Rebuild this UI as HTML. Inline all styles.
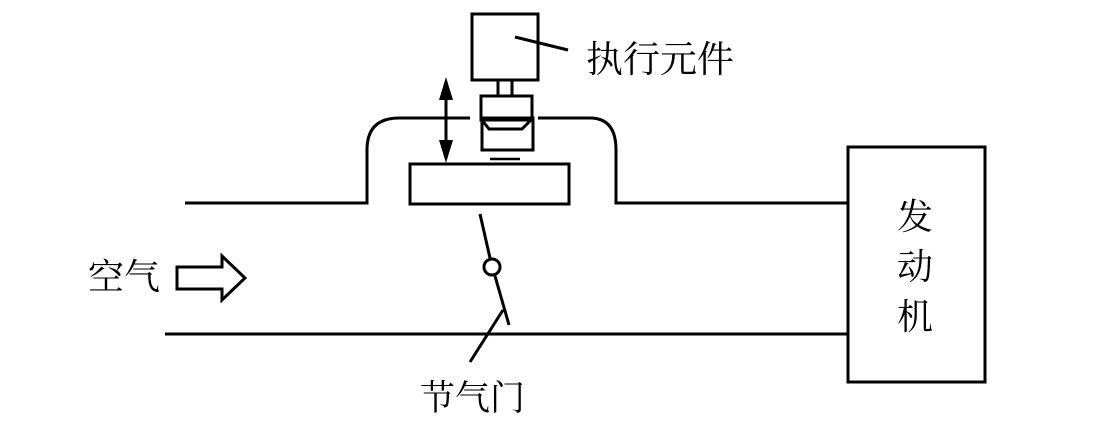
<!DOCTYPE html>
<html><head><meta charset="utf-8"><style>
html,body{margin:0;padding:0;background:#fff;}
svg{display:block}
text{font-family:"Liberation Sans","Noto Serif CJK SC",serif;fill:#000;}
</style></head><body>
<svg width="1100" height="443" viewBox="0 0 1100 443" xmlns="http://www.w3.org/2000/svg">
<g fill="none" stroke="#000" stroke-width="3">
<rect x="472" y="14" width="66" height="66"/>
<line x1="515" y1="37" x2="568" y2="50"/>
<rect x="498" y="80" width="14" height="16"/>
<rect x="481" y="96" width="51" height="24"/>
<rect x="482" y="118" width="51" height="32"/>
<polyline points="482,120 489,129 522,129 531,120"/>
<line x1="490" y1="159" x2="520" y2="159" stroke-width="2.5"/>
<path d="M185,203 H367 V150 Q367,118 399,118 H470"/>
<path d="M538,118 H590 Q616,118 616,150 V203 H848"/>
<rect x="410" y="164" width="159" height="40"/>
<line x1="165" y1="334" x2="848" y2="334"/>
<rect x="848" y="147" width="137" height="235"/>
<line x1="480" y1="214" x2="490" y2="258"/>
<circle cx="492" cy="267" r="8"/>
<line x1="495" y1="276" x2="509" y2="325"/>
<line x1="503" y1="310" x2="470" y2="362"/>
<line x1="446" y1="92" x2="446" y2="148"/>
<polygon points="177,267 222,267 222,256 245,278 222,300 222,289 177,289"/>
</g>
<polygon points="446,77 439,100 453,100" fill="#000"/>
<polygon points="446,163 439,140 453,140" fill="#000"/>
<text x="586" y="72" font-size="37">执行元件</text>
<text x="88" y="289" font-size="36">空气</text>
<text x="897" y="229" font-size="36">发</text>
<text x="897" y="279" font-size="36">动</text>
<text x="897" y="329" font-size="36">机</text>
<text x="420" y="410" font-size="35">节气门</text>
</svg>
</body></html>
